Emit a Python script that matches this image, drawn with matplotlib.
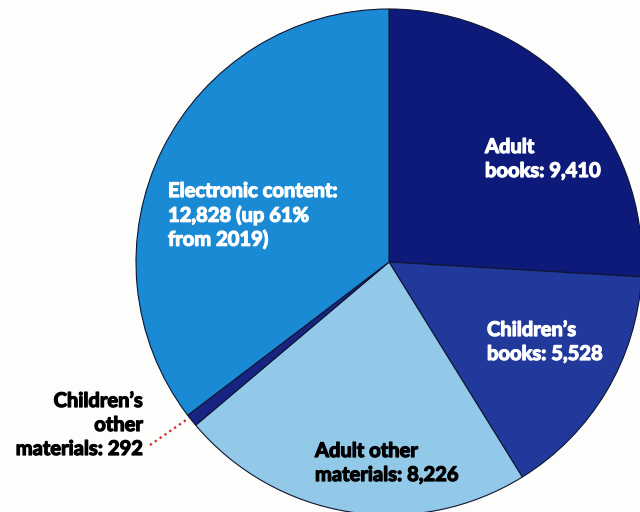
import matplotlib.pyplot as plt
import matplotlib.patheffects as pe

categories = ["Adult books", "Children's books", "Adult other materials",
              "Children's other materials", "Electronic content"]
values = [9410, 5528, 8226, 292, 12828]
colors = ["#0d1a7a", "#21399a", "#92c8e8", "#172484", "#1b8ad4"]

labels = [
    "Adult\nbooks: 9,410",
    "Children\u2019s\nbooks: 5,528",
    "Adult other\nmaterials: 8,226",
    "Children\u2019s\nother\nmaterials: 292",
    "Electronic content:\n12,828 (up 61%\nfrom 2019)",
]

plt.rcParams['font.family'] = ['Lato', 'DejaVu Sans']

fig = plt.figure(figsize=(6.4, 5.12), dpi=100)
fig.patch.set_facecolor('#fdfdfb')
ax = fig.add_axes([0, 0, 1, 1])

ax.pie(values, colors=colors, startangle=90, counterclock=False,
       center=(389, 250), radius=253, frame=True,
       wedgeprops=dict(edgecolor='#0e1530', linewidth=0.8))
ax.set_xlim(0, 640)
ax.set_ylim(0, 512)
ax.set_aspect('equal')
ax.axis('off')

fs = 14.5
ls = 1.25


def label(x, y, s, c, ha='left'):
    ax.text(x, 512 - y, s, color=c, fontsize=fs, fontweight='bold',
            ha=ha, va='top', linespacing=ls, multialignment=ha,
            path_effects=[pe.withStroke(linewidth=0.9, foreground=c)])


label(485, 137, labels[0], 'white')
label(487, 320, labels[1], 'white')
label(315, 441, labels[2], 'black')
label(143, 391, labels[3], 'black', ha='right')
label(168, 181, labels[4], 'white')

ax.plot([150, 189], [512 - 445, 512 - 418], linestyle=':', color='#d42020',
        linewidth=1.6)

fig.savefig('out.png', dpi=100, facecolor=fig.get_facecolor())
